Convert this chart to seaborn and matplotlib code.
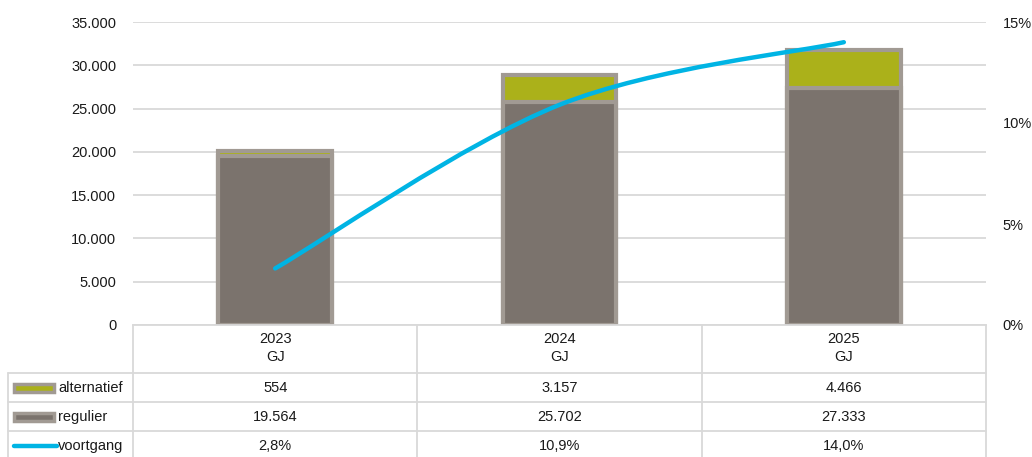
import matplotlib

matplotlib.use("Agg")
import matplotlib.pyplot as plt
import matplotlib.transforms as mtransforms
import numpy as np
import pandas as pd
import seaborn as sns
from matplotlib.lines import Line2D
from matplotlib.patches import PathPatch, Rectangle
from matplotlib.path import Path
from matplotlib.ticker import FuncFormatter

# ------------------------------ data

YEARS = ["2023", "2024", "2025"]
UNIT = "GJ"
ALTERNATIEF = [554, 3157, 4466]
REGULIER = [19564, 25702, 27333]
VOORTGANG = [0.028, 0.109, 0.140]  # share alternatief
SERIES_LABELS = ["alternatief", "regulier", "voortgang"]

# ------------------------------ style

REG_FILL = "#7b736d"
BAR_EDGE = "#a19a93"
ALT_FILL = "#abb11a"
LINE_BLUE = "#00b4e4"
GRID = "#d9d9d9"
TEXT = "#1a1a1a"
FS = 10.5

sns.set_style("white")
plt.rcParams["font.family"] = ["Liberation Sans", "DejaVu Sans"]
plt.rcParams["text.color"] = TEXT

W, H = 1032, 457
DPI = 100
fig = plt.figure(figsize=(W / DPI, H / DPI), dpi=DPI)


def fx(px):
    return px / W


def fy(py):
    return 1 - py / H


AX_L, AX_R, AX_T, AX_B = 133, 986, 22, 325
ax = fig.add_axes([fx(AX_L), fy(AX_B), fx(AX_R - AX_L), (AX_B - AX_T) / H])

df = pd.DataFrame(
    {
        "year": YEARS,
        "regulier": REGULIER,
        "alternatief": ALTERNATIEF,
    }
)
df["totaal"] = df["regulier"] + df["alternatief"]

# stacked bars: total first (green), regulier on top (grey)
sns.barplot(
    data=df, x="year", y="totaal", color=ALT_FILL, saturation=1,
    width=0.40, edgecolor=BAR_EDGE, linewidth=3, ax=ax,
)
sns.barplot(
    data=df, x="year", y="regulier", color=REG_FILL, saturation=1,
    width=0.40, edgecolor=BAR_EDGE, linewidth=3, ax=ax,
)

ax.set_xlim(-0.5, 2.5)
ax.set_ylim(0, 35000)
ax.set_yticks(np.arange(0, 35001, 5000))
ax.yaxis.set_major_formatter(FuncFormatter(lambda v, p: f"{int(v):,}".replace(",", ".")))
ax.tick_params(axis="y", length=0, pad=12, labelsize=FS, labelcolor=TEXT)
ax.set_xticks([])
ax.set_xlabel("")
ax.set_ylabel("")
ax.grid(axis="y", color=GRID, linewidth=1.3)
ax.set_axisbelow(True)
for s in ["top", "right", "left"]:
    ax.spines[s].set_visible(False)
ax.spines["bottom"].set_color(GRID)
ax.spines["bottom"].set_linewidth(1.3)

# secondary axis: voortgang (smoothed line)
ax2 = ax.twinx()
ax2.set_ylim(0, 0.15)
ax2.set_yticks([0, 0.05, 0.10, 0.15])
ax2.yaxis.set_major_formatter(FuncFormatter(lambda v, p: f"{v * 100:.0f}%"))
ax2.tick_params(axis="y", length=0, pad=12, labelsize=FS, labelcolor=TEXT)
for s in ["top", "right", "left", "bottom"]:
    ax2.spines[s].set_visible(False)

xs = np.arange(len(VOORTGANG), dtype=float)
ys = np.array(VOORTGANG)
pts = np.column_stack([xs, ys])
ext = np.vstack([pts[0], pts, pts[-1]])
verts = [pts[0]]
codes = [Path.MOVETO]
for i in range(len(pts) - 1):
    p0, p1, p2, p3 = ext[i], ext[i + 1], ext[i + 2], ext[i + 3]
    verts += [p1 + (p2 - p0) / 6, p2 - (p3 - p1) / 6, p2]
    codes += [Path.CURVE4] * 3
ax2.add_patch(
    PathPatch(Path(verts, codes), facecolor="none", edgecolor=LINE_BLUE,
              linewidth=3.2, capstyle="round", transform=ax2.transData)
)

# ------------------------------ data table below the chart

blend = mtransforms.blended_transform_factory(ax.transData, fig.transFigure)
ROW_LINES = [373, 402, 431]
ROW_CENTERS = [388, 417, 446]
TBL_LEFT = 8

# vertical lines between categories
for xb in [-0.5, 0.5, 1.5, 2.5]:
    fig.add_artist(Line2D([xb, xb], [fy(AX_B), 0], transform=blend, color=GRID, lw=1.3))
fig.add_artist(Line2D([fx(TBL_LEFT)] * 2, [fy(ROW_LINES[0]), 0], color=GRID, lw=1.3))
for ry in ROW_LINES:
    fig.add_artist(Line2D([fx(TBL_LEFT), fx(AX_R)], [fy(ry)] * 2, color=GRID, lw=1.3))

# header
for i, yr in enumerate(YEARS):
    fig.text(i, fy(348), f"{yr}\n{UNIT}", transform=blend, ha="center", va="center",
             fontsize=FS, linespacing=1.45)

fmt_num = lambda v: f"{v:,}".replace(",", ".")
fmt_pct = lambda v: f"{v * 100:.1f}%".replace(".", ",")
rows = [
    [fmt_num(v) for v in ALTERNATIEF],
    [fmt_num(v) for v in REGULIER],
    [fmt_pct(v) for v in VOORTGANG],
]
for r, vals in enumerate(rows):
    for i, t in enumerate(vals):
        fig.text(i, fy(ROW_CENTERS[r]), t, transform=blend, ha="center", va="center", fontsize=FS)

# row legend keys
for r, (lab, fill) in enumerate(zip(SERIES_LABELS[:2], [ALT_FILL, REG_FILL])):
    cy = ROW_CENTERS[r]
    fig.add_artist(Rectangle((fx(14), fy(cy + 4)), fx(40), 8 / H, facecolor=fill,
                             edgecolor=BAR_EDGE, linewidth=2.5))
for r, lab in enumerate(SERIES_LABELS):
    fig.text(fx(58), fy(ROW_CENTERS[r]), lab, ha="left", va="center", fontsize=FS)
fig.add_artist(Line2D([fx(14), fx(57)], [fy(ROW_CENTERS[2])] * 2, color=LINE_BLUE,
                      lw=3.2, solid_capstyle="round"))

fig.savefig("out.png", dpi=DPI)
